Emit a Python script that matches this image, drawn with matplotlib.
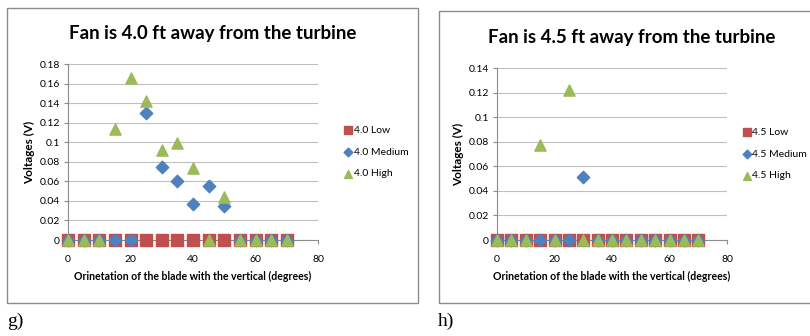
import matplotlib.pyplot as plt
from matplotlib.patches import Rectangle

angles = [0, 5, 10, 15, 20, 25, 30, 35, 40, 45, 50, 55, 60, 65, 70]

low_40 = [0] * 15
medium_40 = [0, 0, 0, 0, 0, 0.130, 0.075, 0.060, 0.037, 0.055, 0.035, 0, 0, 0, 0]
high_40 = [0, 0, 0, 0.114, 0.166, 0.142, 0.092, 0.099, 0.074, 0, 0.044, 0, 0, 0, 0]

low_45 = [0] * 15
medium_45 = [0, 0, 0, 0, 0, 0, 0.051, 0, 0, 0, 0, 0, 0, 0, 0]
high_45 = [0, 0, 0, 0.077, 0, 0.122, 0, 0, 0, 0, 0, 0, 0, 0, 0]

RED, BLUE, GREEN = '#C0504D', '#4F81BD', '#9BBB59'
plt.rcParams['font.family'] = ['Lato', 'DejaVu Sans']

W, H = 810, 336
fig = plt.figure(figsize=(W / 100, H / 100), dpi=100)


def px_axes(x0, y_top, x1, y_bot):
    return fig.add_axes([x0 / W, 1 - y_bot / H, (x1 - x0) / W, (y_bot - y_top) / H])


def box(x0, y0, x1, y1):
    fig.patches.append(Rectangle((x0 / W, 1 - y1 / H), (x1 - x0) / W, (y1 - y0) / H,
                                 transform=fig.transFigure, fill=False,
                                 edgecolor='#8c8c8c', linewidth=1.0))


def panel(ax, low, med, high, ymax, title, names, tx, ty, lx, ly):
    ax.scatter(angles, low, marker='s', s=70, color=RED, label=names[0], zorder=3)
    ax.scatter(angles, med, marker='D', s=40, color=BLUE, label=names[1], zorder=4)
    ax.scatter(angles, high, marker='^', s=65, color=GREEN, label=names[2], zorder=5)
    ax.set_xlim(0, 80)
    ax.set_ylim(0, ymax)
    ax.set_xticks([0, 20, 40, 60, 80])
    n = int(round(ymax / 0.02))
    ax.set_yticks([round(v * 0.02, 2) for v in range(n + 1)])
    ax.set_yticklabels(['%g' % round(v * 0.02, 2) for v in range(n + 1)])
    ax.grid(axis='y', color='#bfbfbf', linewidth=0.8)
    ax.set_axisbelow(True)
    for s in ['top', 'right']:
        ax.spines[s].set_visible(False)
    for s in ['left', 'bottom']:
        ax.spines[s].set_color('#8c8c8c')
    ax.tick_params(labelsize=7.5, length=3, color='#8c8c8c', pad=3)
    ax.tick_params(axis='x', pad=8)
    for c in ax.collections:
        c.set_clip_on(False)
    ax.set_xlabel('Orinetation of the blade with the vertical (degrees)', fontsize=7.6,
                  fontweight='bold', labelpad=5)
    ax.set_ylabel('Voltages (V)', fontsize=8.5, fontweight='bold', labelpad=3)
    fig.text(tx / W, 1 - ty / H, title, fontsize=13.5, fontweight='bold',
             ha='center', va='center')
    ax.legend(loc='center left', bbox_to_anchor=(lx, ly), frameon=False, fontsize=7.5,
              handletextpad=0.05, labelspacing=1.2, markerscale=0.7, borderpad=0,
              handlelength=1.0)


box(7, 8, 418, 303)
box(439, 11, 812, 303)

ax1 = px_axes(68, 64, 318, 240)
panel(ax1, low_40, medium_40, high_40, 0.18, 'Fan is 4.0 ft away from the turbine',
      ['4.0 Low', '4.0 Medium', '4.0 High'], 213, 34, 1.08, 0.5)

ax2 = px_axes(497, 68, 727, 240)
panel(ax2, low_45, medium_45, high_45, 0.14, 'Fan is 4.5 ft away from the turbine',
      ['4.5 Low', '4.5 Medium', '4.5 High'], 632, 37, 1.04, 0.5)

fig.text(7 / W, 1 - 321 / H, 'g)', fontsize=14, family='Liberation Serif', va='center')
fig.text(438 / W, 1 - 321 / H, 'h)', fontsize=14, family='Liberation Serif', va='center')

fig.savefig('out.png', dpi=100)
